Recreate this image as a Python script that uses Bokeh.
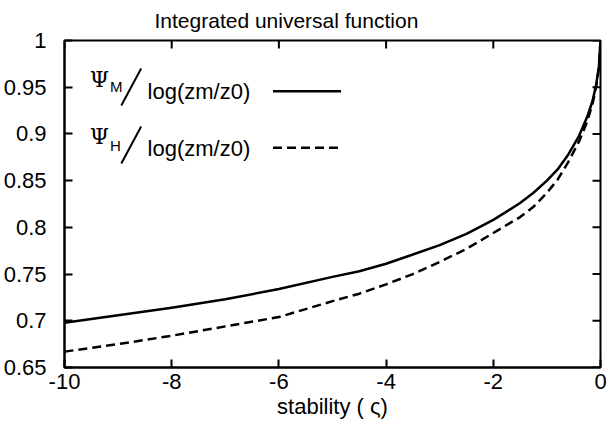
import math

from bokeh.plotting import figure
from bokeh.models import Range1d, FixedTicker, CustomJSTickFormatter, ColumnDataSource
from bokeh.core.properties import value
from bokeh.embed import file_html
from bokeh.resources import INLINE

# stability parameter (zeta) and the two integrated universal functions
zeta = [-10, -9, -8, -7, -6, -5, -4.5, -4, -3.5, -3, -2.5, -2, -1.5, -1.25,
        -1, -0.8, -0.6, -0.4, -0.25, -0.15, -0.08, -0.03, 0]
psi_m = [0.698, 0.706, 0.714, 0.723, 0.734, 0.747, 0.753, 0.761, 0.771, 0.781,
         0.793, 0.808, 0.826, 0.837, 0.850, 0.862, 0.878, 0.898, 0.918, 0.935,
         0.953, 0.972, 1.0]
psi_h = [0.667, 0.675, 0.684, 0.694, 0.704, 0.721, 0.729, 0.739, 0.750, 0.763,
         0.777, 0.794, 0.811, 0.822, 0.837, 0.851, 0.870, 0.892, 0.913, 0.932,
         0.951, 0.970, 1.0]

x_ticks = [-10, -8, -6, -4, -2, 0]
y_ticks = [0.65, 0.7, 0.75, 0.8, 0.85, 0.9, 0.95, 1.0]

FONT = "Liberation Sans"
SERIF = "DejaVu Serif"

p = figure(width=608, height=436, output_backend="svg", toolbar_location=None,
           x_range=Range1d(-10, 0), y_range=Range1d(0.65, 1.0),
           min_border_left=63, min_border_right=8, min_border_top=40,
           min_border_bottom=69)
p.background_fill_color = "white"
p.border_fill_color = "white"
p.outline_line_color = "black"
p.outline_line_width = 2
p.grid.visible = False

p.title.text = "Integrated universal function"
p.title.align = "left"
p.title.vertical_align = "top"
p.title.offset = 90
p.title.standoff = 14
p.title.text_font = FONT
p.title.text_font_size = "21px"
p.title.text_font_style = "normal"
p.title.text_color = "black"

xfmt = CustomJSTickFormatter(code="return String(tick);")
yfmt = CustomJSTickFormatter(code="return String(parseFloat(tick.toFixed(2)));")


def style_axis(ax, ticks):
    ax.ticker = FixedTicker(ticks=ticks)
    ax.axis_line_width = 2
    ax.axis_line_color = "black"
    ax.major_tick_line_width = 2
    ax.major_tick_line_color = "black"
    ax.major_tick_in = 8
    ax.major_tick_out = 0
    ax.minor_tick_line_color = None
    ax.major_label_text_font = FONT
    ax.major_label_text_color = "black"
    ax.major_label_text_font_size = "22px"


xa = p.xaxis[0]
style_axis(xa, x_ticks)
xa.formatter = xfmt
xa.major_label_standoff = 6
xa.axis_label = "stability ( ς)"
xa.axis_label_text_font = FONT
xa.axis_label_text_font_size = "22px"
xa.axis_label_text_font_style = "normal"
xa.axis_label_text_color = "black"
xa.axis_label_standoff = 2

ya = p.yaxis[0]
style_axis(ya, y_ticks)
ya.formatter = yfmt
ya.major_label_standoff = 18

# mirrored inward ticks on the top and right edges of the frame
p.ray(x=x_ticks, y=[y_ticks[-1]] * len(x_ticks), length=8, length_units="screen",
      angle=-math.pi / 2, line_color="black", line_width=2)
p.ray(x=[x_ticks[-1]] * len(y_ticks), y=y_ticks, length=8, length_units="screen",
      angle=math.pi, line_color="black", line_width=2)

src = ColumnDataSource(dict(zeta=zeta, psi_m=psi_m, psi_h=psi_h))
p.line("zeta", "psi_m", source=src, line_color="black", line_width=2.5,
       line_join="round")
p.line("zeta", "psi_h", source=src, line_color="black", line_width=2.5,
       line_dash="9 5", line_join="round")

# key: Psi_X / log(zm/z0) followed by a line sample
for sub, y_psi, y_sub, y_log, y_line, sl0, sl1, dash in [
    ("M", 0.9581, 0.9508, 0.9451, 0.9457, 0.9304, 0.9700, "solid"),
    ("H", 0.8971, 0.8876, 0.8844, 0.8852, 0.8684, 0.9080, "9 5"),
]:
    p.text(x=[-9.53], y=[y_psi], text=["Ψ"], text_font=value(SERIF),
           text_font_size="22px", text_align="left", text_baseline="alphabetic",
           text_color="black")
    p.text(x=[-9.15], y=[y_sub], text=[sub], text_font=value(FONT),
           text_font_size="15px", text_align="left", text_baseline="alphabetic",
           text_color="black")
    p.line(x=[-8.94, -8.57], y=[sl0, sl1], line_color="black", line_width=2)
    p.text(x=[-8.45], y=[y_log], text=["log(zm/z0)"], text_font=value(FONT),
           text_font_size="22px", text_align="left", text_baseline="alphabetic",
           text_color="black")
    p.line(x=[-6.11, -4.84], y=[y_line, y_line], line_color="black",
           line_width=2.5, line_dash=dash)

open("out.html", "w").write(file_html(p, INLINE))
